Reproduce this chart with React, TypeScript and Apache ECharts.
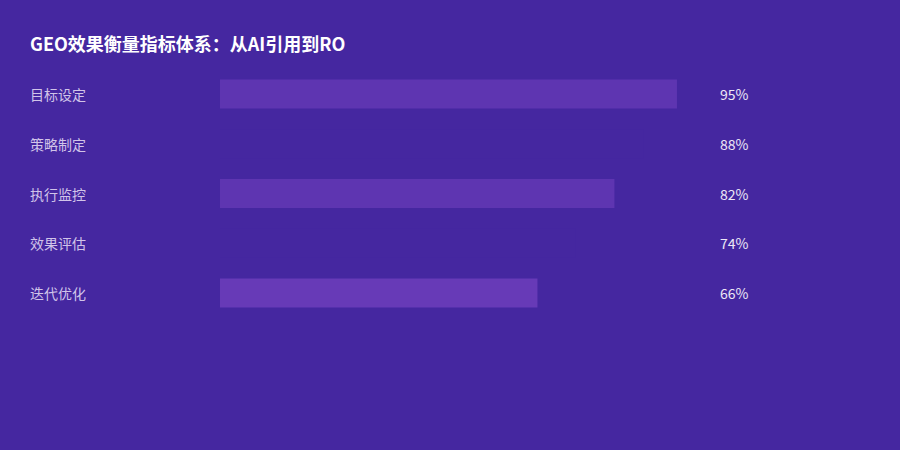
import { useEffect, useRef } from "react";
import * as echarts from "echarts";

const TITLE = "GEO效果衡量指标体系：从AI引用到RO";
const CATEGORIES = ["目标设定", "策略制定", "执行监控", "效果评估", "迭代优化"];
const VALUES = [95, 88, 82, 74, 66];
const BAR_COLORS = ["#5e35b1", "#4527a0", "#5e35b1", "#4527a0", "#673ab7"];

const BG = "#4527a0";
const FONT = "'Noto Sans CJK SC', 'Noto Sans', sans-serif";

export default function App() {
  const chartRef = useRef<HTMLDivElement>(null);

  useEffect(() => {
    if (!chartRef.current) return;
    const chart = echarts.init(chartRef.current, null, { renderer: "svg" });

    chart.setOption({
      animation: false,
      backgroundColor: BG,
      textStyle: { fontFamily: FONT },
      title: {
        text: TITLE,
        left: 30,
        top: 34,
        padding: 0,
        textStyle: { color: "#ffffff", fontSize: 18, fontWeight: "bold", fontFamily: FONT },
      },
      grid: { left: 220, right: 199, top: 69, bottom: 132 },
      xAxis: {
        type: "value",
        min: 0,
        max: 100,
        show: false,
      },
      yAxis: [
        {
          type: "category",
          data: CATEGORIES,
          inverse: true,
          axisLine: { show: false },
          axisTick: { show: false },
          splitLine: { show: false },
          axisLabel: {
            margin: 190,
            align: "left",
            color: "#d1c4e9",
            fontSize: 14,
            fontFamily: FONT,
          },
        },
        {
          type: "category",
          data: VALUES.map((v) => `${v}%`),
          inverse: true,
          position: "right",
          axisLine: { show: false },
          axisTick: { show: false },
          splitLine: { show: false },
          axisLabel: {
            margin: 19,
            align: "left",
            color: "#ede7f6",
            fontSize: 14,
            fontFamily: FONT,
          },
        },
      ],
      series: [
        {
          type: "bar",
          yAxisIndex: 0,
          barWidth: 29,
          data: VALUES.map((v, i) => ({ value: v, itemStyle: { color: BAR_COLORS[i] } })),
        },
      ],
    });

    return () => chart.dispose();
  }, []);

  return (
    <div
      ref={chartRef}
      style={{ position: "absolute", left: 0, top: 0, width: "900px", height: "450px" }}
    />
  );
}
